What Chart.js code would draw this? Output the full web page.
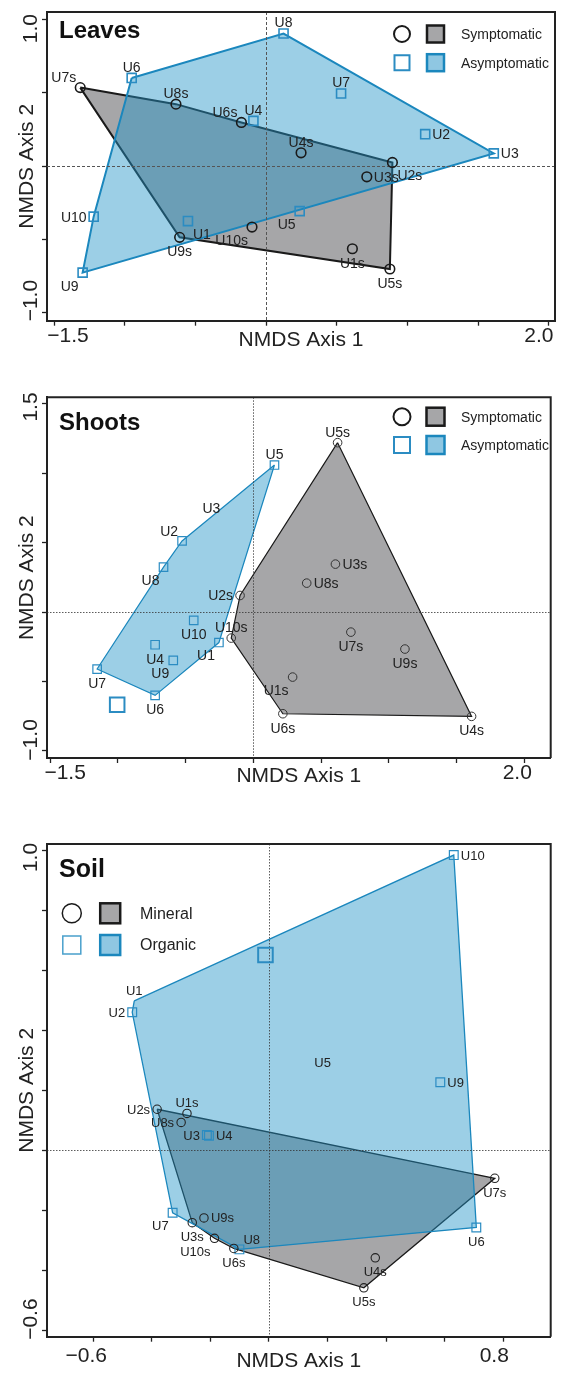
<!DOCTYPE html>
<html lang="en">
<head>
<meta charset="UTF-8">
<title>NMDS ordination</title>
<script src="https://cdn.jsdelivr.net/npm/chart.js"></script>
<style>
  * { margin: 0; padding: 0; box-sizing: border-box; }
  body { width: 563px; height: 1373px; background: #fff; position: relative; overflow: hidden; }
  canvas { position: absolute; left: 0; }
  #leaves { top: 0; }
  #shoots { top: 380px; }
  #soil { top: 820px; }
</style>
</head>
<body>
<canvas id="leaves" width="563" height="360"></canvas>
<canvas id="shoots" width="563" height="410"></canvas>
<canvas id="soil" width="563" height="553"></canvas>
<script>
// ---- Leaves ----
const leavesSymNames = ['U7s', 'U8s', 'U6s', 'U4s', 'U2s', 'U3s', 'U9s', 'U10s', 'U1s', 'U5s'];
const leavesSymX = [-1.315, -0.638, -0.175, 0.247, 0.893, 0.712, -0.612, -0.100, 0.610, 0.875];
const leavesSymY = [0.536, 0.423, 0.298, 0.091, 0.025, -0.073, -0.486, -0.416, -0.564, -0.702];
const leavesSymHull = ['U7s', 'U8s', 'U6s', 'U2s', 'U5s', 'U9s'];
const leavesAsymNames = ['U8', 'U6', 'U7', 'U4', 'U2', 'U3', 'U10', 'U1', 'U5', 'U9'];
const leavesAsymX = [0.123, -0.951, 0.530, -0.090, 1.125, 1.610, -1.220, -0.553, 0.237, -1.298];
const leavesAsymY = [0.905, 0.602, 0.496, 0.309, 0.218, 0.087, -0.345, -0.375, -0.307, -0.727];
const leavesAsymHull = ['U6', 'U8', 'U3', 'U9', 'U10'];
const leavesXTicks = [-1.5, -1, -0.5, 0, 0.5, 1, 1.5, 2];
const leavesXLabels = [-1.5, 2];
const leavesYTicks = [-1, -0.5, 0, 0.5, 1];
const leavesYLabels = [-1, 1];

// ---- Shoots ----
const shootsSymNames = ['U5s', 'U3s', 'U8s', 'U2s', 'U10s', 'U7s', 'U9s', 'U1s', 'U6s', 'U4s'];
const shootsSymX = [0.622, 0.606, 0.394, -0.098, -0.163, 0.720, 1.119, 0.290, 0.218, 1.611];
const shootsSymY = [1.221, 0.346, 0.209, 0.120, -0.187, -0.144, -0.266, -0.468, -0.732, -0.751];
const shootsSymHull = ['U5s', 'U4s', 'U6s', 'U10s', 'U2s'];
const shootsAsymNames = ['U5', 'U3', 'U2', 'U8', 'U10', 'U4', 'U9', 'U1', 'U7', 'U6'];
const shootsAsymX = [0.156, -0.31, -0.526, -0.663, -0.440, -0.725, -0.591, -0.254, -1.153, -0.725];
const shootsAsymY = [1.060, 0.67, 0.513, 0.324, -0.060, -0.235, -0.348, -0.219, -0.410, -0.600];
const shootsAsymHull = ['U5', 'U1', 'U6', 'U7', 'U8', 'U2'];
const shootsAsymCentroid = [-1.005, -0.667];
const shootsXTicks = [-1.5, -1, -0.5, 0, 0.5, 1, 1.5, 2];
const shootsXLabels = [-1.5, 2];
const shootsYTicks = [-1, -0.5, 0, 0.5, 1, 1.5];
const shootsYLabels = [-1, 1.5];

// ---- Soil ----
const soilMinNames = ['U2s', 'U1s', 'U8s', 'U7s', 'U9s', 'U3s', 'U10s', 'U6s', 'U4s', 'U5s'];
const soilMinX = [-0.382, -0.280, -0.300, 0.771, -0.222, -0.262, -0.186, -0.120, 0.363, 0.324];
const soilMinY = [0.136, 0.122, 0.092, -0.094, -0.226, -0.242, -0.294, -0.328, -0.359, -0.459];
const soilMinHull = ['U2s', 'U7s', 'U5s', 'U6s', 'U10s', 'U3s'];
const soilOrgNames = ['U10', 'U1', 'U2', 'U5', 'U9', 'U3', 'U4', 'U7', 'U8', 'U6'];
const soilOrgX = [0.631, -0.460, -0.467, 0.183, 0.585, -0.212, -0.205, -0.329, -0.101, 0.708];
const soilOrgY = [0.983, 0.497, 0.459, 0.289, 0.226, 0.050, 0.048, -0.209, -0.331, -0.258];
const soilOrgHull = ['U1', 'U10', 'U6', 'U8', 'U7', 'U2'];
const soilOrgCentroid = [-0.012, 0.650];
const soilXTicks = [-0.6, -0.4, -0.2, 0, 0.2, 0.4, 0.6, 0.8];
const soilXLabels = [-0.6, 0.8];
const soilYTicks = [-0.6, -0.4, -0.2, 0, 0.2, 0.4, 0.6, 0.8, 1.0];
const soilYLabels = [-0.6, 1.0];

// where each point label sits relative to its marker
const leavesSymSides = ['tl', 't', 'tl', 't', 'br', 'r', 'b', 'bl', 'b', 'b'];
const leavesAsymSides = ['t', 't', 't', 't', 'r', 'r', 'l', 'br', 'bl', 'bl'];
const shootsSymSides = ['t', 'r', 'r', 'l', 't', 'b', 'b', 'bl', 'b', 'b'];
const shootsAsymSides = ['t', 't', 'tl', 'bl', 'b', 'b', 'bl', 'bl', 'b', 'b'];
const soilMinSides = ['l', 't', 'l', 'b', 'r', 'b', 'bl', 'b', 'b', 'b'];
const soilOrgSides = ['r', 't', 'l', 'c', 'r', 'l', 'r', 'bl', 'tr', 'b'];
// points drawn in the figure with a label only
const shootsAsymNoMarker = ['U3'];
const soilOrgNoMarker = ['U1', 'U5'];

const FONT = '"Liberation Sans", Arial, sans-serif';
const GRAY_FILL = '#a6a6a8';
const BLUE_FILL = 'rgba(35, 149, 200, 0.45)';
const BLUE_LINE = '#1b87bd';
const MARK_BLUE = '#2b8cc2';
const DARK = '#1a1a1a';

const LABEL_SIDES = {
    t: { dx: 0, dy: -10, align: 'center' },
    b: { dx: 0, dy: 15, align: 'center' },
    l: { dx: -7, dy: 1, align: 'right' },
    r: { dx: 7, dy: 1, align: 'left' },
    tl: { dx: -4, dy: -9, align: 'right' },
    tr: { dx: 4, dy: -9, align: 'left' },
    bl: { dx: -4, dy: 14, align: 'right' },
    br: { dx: 5, dy: 14, align: 'left' },
    c: { dx: 0, dy: 0, align: 'center' }
};

function fmt(v) {
    return v.toFixed(1).replace('-', '\u2212');
}

function toPoints(xs, ys) {
    return xs.map((x, i) => ({ x: x, y: ys[i] }));
}

function hullPoints(names, xs, ys, hull) {
    const pts = hull.map(n => {
        const i = names.indexOf(n);
        return { x: xs[i], y: ys[i] };
    });
    pts.push(pts[0]);
    return pts;
}

const panelDecor = {
    id: 'panelDecor',
    afterDatasetDraw(chart, args, opts) {
        if (chart.data.datasets[args.index].role !== 'asymHull') return;
        const { ctx, chartArea: a, scales: { x, y } } = chart;
        const px = Math.round(x.getPixelForValue(0)) + 0.5;
        const py = Math.round(y.getPixelForValue(0)) + 0.5;
        ctx.save();
        ctx.strokeStyle = opts.zeroColor;
        ctx.lineWidth = opts.zeroWidth;
        ctx.setLineDash(opts.zeroDash);
        ctx.beginPath();
        ctx.moveTo(px, a.top);
        ctx.lineTo(px, a.bottom);
        ctx.moveTo(a.left, py);
        ctx.lineTo(a.right, py);
        ctx.stroke();
        ctx.restore();
    },
    afterDatasetsDraw(chart, args, opts) {
        const ctx = chart.ctx;
        chart.data.datasets.forEach((ds, di) => {
            if (!ds.names) return;
            const meta = chart.getDatasetMeta(di);
            ctx.save();
            ctx.font = opts.labelSize + 'px ' + FONT;
            ctx.fillStyle = '#222';
            ctx.textBaseline = 'middle';
            meta.data.forEach((pt, i) => {
                const s = LABEL_SIDES[ds.sides[i]];
                ctx.textAlign = s.align;
                ctx.fillText(ds.names[i], pt.x + s.dx, pt.y + s.dy);
            });
            ctx.restore();
        });
    },
    afterDraw(chart, args, opts) {
        const { ctx, chartArea: a, scales } = chart;
        ctx.save();
        // box top and right
        ctx.strokeStyle = '#222';
        ctx.lineWidth = 2;
        ctx.beginPath();
        ctx.moveTo(a.left, a.top);
        ctx.lineTo(a.right, a.top);
        ctx.lineTo(a.right, a.bottom);
        ctx.stroke();
        // end tick labels, placed from the scales
        ctx.fillStyle = '#222';
        ctx.font = '21px ' + FONT;
        ctx.textAlign = 'center';
        ctx.textBaseline = 'middle';
        opts.xLabels.forEach((v, k) => {
            ctx.fillText(fmt(v), scales.x.getPixelForValue(v) + opts.xLabelOffset[k], a.bottom + opts.xLabelDy);
        });
        opts.yLabels.forEach((v, k) => {
            ctx.save();
            ctx.translate(31, scales.y.getPixelForValue(v) + opts.yLabelOffset[k]);
            ctx.rotate(-Math.PI / 2);
            ctx.fillText(fmt(v), 0, 0);
            ctx.restore();
        });
        // panel title
        ctx.fillStyle = '#111';
        ctx.font = 'bold ' + opts.titleSize + 'px ' + FONT;
        ctx.textAlign = 'left';
        ctx.fillText(opts.title, a.left + 12, a.top + opts.titleY);
        // legend
        const lg = opts.legend;
        lg.rows.forEach((row, k) => {
            const cy = a.top + lg.y + k * lg.gap;
            const cx = a.left + lg.x;
            const h = lg.box / 2;
            ctx.lineWidth = row.openWidth;
            ctx.strokeStyle = row.openColor;
            ctx.beginPath();
            if (row.open === 'circle') ctx.arc(cx, cy, h - 0.5, 0, Math.PI * 2);
            else ctx.rect(cx - h + 1, cy - h + 1, lg.box - 2, lg.box - 2);
            ctx.stroke();
            const sx = a.left + lg.sq;
            ctx.fillStyle = row.fill;
            ctx.fillRect(sx - h, cy - h, lg.box, lg.box);
            ctx.lineWidth = 2.5;
            ctx.strokeStyle = row.stroke;
            ctx.strokeRect(sx - h, cy - h, lg.box, lg.box);
            ctx.fillStyle = '#222';
            ctx.font = lg.fontSize + 'px ' + FONT;
            ctx.fillText(row.text, a.left + lg.text, cy + 1);
        });
        ctx.restore();
    }
};

function axisOpts(p, isX) {
    const tickVals = isX ? p.xTicks : p.yTicks;
    return {
        type: 'linear',
        position: isX ? 'bottom' : 'left',
        min: isX ? p.xMin : p.yMin,
        max: isX ? p.xMax : p.yMax,
        afterBuildTicks: s => { s.ticks = tickVals.map(v => ({ value: v })); },
        afterFit: s => {
            if (isX) s.height = p.xAxisHeight; else s.width = 47;
            s.paddingLeft = 0; s.paddingRight = 0; s.paddingTop = 0; s.paddingBottom = 0;
        },
        grid: { display: true, drawOnChartArea: false, drawTicks: true, tickLength: 5, tickWidth: 1.3, tickColor: '#222', color: '#222' },
        border: { display: true, color: '#222', width: 2 },
        ticks: { display: false, autoSkip: false },
        title: {
            display: true,
            text: isX ? 'NMDS Axis 1' : 'NMDS Axis 2',
            color: '#222',
            font: { family: FONT, size: 21 },
            padding: isX ? { top: 0, bottom: p.xTitlePad } : { top: 14.4, bottom: 0 }
        }
    };
}

function buildPanel(p) {
    const noMarker = p.asym.noMarker || [];
    const datasets = [
        {
            role: 'symHull', order: 4,
            data: hullPoints(p.sym.names, p.sym.x, p.sym.y, p.sym.hull),
            showLine: true, fill: 'shape', tension: 0,
            backgroundColor: GRAY_FILL, borderColor: DARK, borderWidth: p.hullWidth,
            pointRadius: 0
        },
        {
            role: 'asymHull', order: 3,
            data: hullPoints(p.asym.names, p.asym.x, p.asym.y, p.asym.hull),
            showLine: true, fill: 'shape', tension: 0,
            backgroundColor: BLUE_FILL, borderColor: BLUE_LINE, borderWidth: p.hullWidth,
            pointRadius: 0
        },
        {
            role: 'asymPts', order: 2,
            names: p.asym.names, sides: p.asym.sides,
            data: toPoints(p.asym.x, p.asym.y),
            showLine: false, pointStyle: 'rect',
            pointRadius: c => noMarker.includes(p.asym.names[c.dataIndex]) ? 0 : p.squareR,
            pointBorderWidth: p.squareW,
            pointBorderColor: MARK_BLUE,
            pointBackgroundColor: 'rgba(0,0,0,0)'
        },
        {
            role: 'symPts', order: 1,
            names: p.sym.names, sides: p.sym.sides,
            data: toPoints(p.sym.x, p.sym.y),
            showLine: false, pointStyle: 'circle',
            pointRadius: p.circleR,
            pointBorderWidth: p.circleW,
            pointBorderColor: p.circleColor,
            pointBackgroundColor: 'rgba(0,0,0,0)'
        }
    ];
    if (p.centroid) {
        datasets.push({
            role: 'centroid', order: 2,
            data: [{ x: p.centroid[0], y: p.centroid[1] }],
            showLine: false, pointStyle: 'rect',
            pointRadius: 10.3, pointBorderWidth: 2,
            pointBorderColor: MARK_BLUE, pointBackgroundColor: 'rgba(0,0,0,0)'
        });
    }
    new Chart(document.getElementById(p.id), {
        type: 'scatter',
        data: { datasets: datasets },
        options: {
            responsive: false,
            animation: false,
            events: [],
            layout: { padding: { top: p.top, right: 1, left: 0, bottom: 0 } },
            scales: { x: axisOpts(p, true), y: axisOpts(p, false) },
            plugins: {
                legend: { display: false },
                tooltip: { enabled: false },
                panelDecor: {
                    title: p.title, titleSize: p.titleSize, titleY: p.titleY,
                    labelSize: p.labelSize,
                    zeroColor: p.zeroColor, zeroWidth: p.zeroWidth, zeroDash: p.zeroDash,
                    xLabels: p.xLabels, xLabelOffset: p.xLabelOffset, xLabelDy: p.xLabelDy,
                    yLabels: p.yLabels, yLabelOffset: p.yLabelOffset,
                    legend: p.legend
                }
            }
        },
        plugins: [panelDecor]
    });
}

const symRows = [
    { open: 'circle', openColor: DARK, openWidth: 2, fill: GRAY_FILL, stroke: DARK, text: 'Symptomatic' },
    { open: 'square', openColor: MARK_BLUE, openWidth: 2, fill: '#8fc7e2', stroke: BLUE_LINE, text: 'Asymptomatic' }
];

buildPanel({
    id: 'leaves', title: 'Leaves', titleSize: 24, titleY: 19, top: 12,
    sym: { names: leavesSymNames, x: leavesSymX, y: leavesSymY, hull: leavesSymHull, sides: leavesSymSides },
    asym: { names: leavesAsymNames, x: leavesAsymX, y: leavesAsymY, hull: leavesAsymHull, sides: leavesAsymSides },
    xTicks: leavesXTicks, xLabels: leavesXLabels, xLabelOffset: [14, -10], xLabelDy: 15.3,
    yTicks: leavesYTicks, yLabels: leavesYLabels, yLabelOffset: [-12, 9],
    xMin: -1.55, xMax: 2.043, yMin: -1.055, yMax: 1.052,
    xAxisHeight: 39.3, xTitlePad: 7.4,
    hullWidth: 2, circleR: 4.8, circleW: 1.6, circleColor: DARK, squareR: 6.4, squareW: 1.6,
    labelSize: 14, zeroColor: '#555', zeroWidth: 1, zeroDash: [3, 2],
    legend: { x: 355, sq: 388.5, text: 414, y: 22, gap: 28.7, box: 17, fontSize: 14, rows: symRows }
});

buildPanel({
    id: 'shoots', title: 'Shoots', titleSize: 24, titleY: 25.7, top: 17.3,
    sym: { names: shootsSymNames, x: shootsSymX, y: shootsSymY, hull: shootsSymHull, sides: shootsSymSides },
    asym: { names: shootsAsymNames, x: shootsAsymX, y: shootsAsymY, hull: shootsAsymHull, sides: shootsAsymSides, noMarker: shootsAsymNoMarker },
    centroid: shootsAsymCentroid,
    xTicks: shootsXTicks, xLabels: shootsXLabels, xLabelOffset: [15, -7], xLabelDy: 15,
    yTicks: shootsYTicks, yLabels: shootsYLabels, yLabelOffset: [-11, 3],
    xMin: -1.523, xMax: 2.195, yMin: -1.051, yMax: 1.548,
    xAxisHeight: 32, xTitlePad: 1.4,
    hullWidth: 1.2, circleR: 4.3, circleW: 1, circleColor: '#333', squareR: 6, squareW: 1.2,
    labelSize: 14, zeroColor: '#333', zeroWidth: 0.8, zeroDash: [1.5, 1.5],
    legend: { x: 355, sq: 388.5, text: 414, y: 19.4, gap: 28.3, box: 18, fontSize: 14, rows: symRows }
});

buildPanel({
    id: 'soil', title: 'Soil', titleSize: 25, titleY: 26, top: 24,
    sym: { names: soilMinNames, x: soilMinX, y: soilMinY, hull: soilMinHull, sides: soilMinSides },
    asym: { names: soilOrgNames, x: soilOrgX, y: soilOrgY, hull: soilOrgHull, sides: soilOrgSides, noMarker: soilOrgNoMarker },
    centroid: soilOrgCentroid,
    xTicks: soilXTicks, xLabels: soilXLabels, xLabelOffset: [-7, -9], xLabelDy: 20,
    yTicks: soilYTicks, yLabels: soilYLabels, yLabelOffset: [-11, 7.5],
    xMin: -0.758, xMax: 0.962, yMin: -0.622, yMax: 1.02,
    xAxisHeight: 36.3, xTitlePad: -1.3,
    hullWidth: 1.3, circleR: 4.2, circleW: 1.1, circleColor: '#222', squareR: 6.2, squareW: 1.2,
    labelSize: 13, zeroColor: '#333', zeroWidth: 0.8, zeroDash: [1.5, 1.5],
    legend: {
        x: 24.8, sq: 63.2, text: 93, y: 69.3, gap: 31.7, box: 20, fontSize: 16,
        rows: [
            { open: 'circle', openColor: DARK, openWidth: 1.5, fill: GRAY_FILL, stroke: DARK, text: 'Mineral' },
            { open: 'square', openColor: '#4aa0cc', openWidth: 1.5, fill: '#8fc7e2', stroke: BLUE_LINE, text: 'Organic' }
        ]
    }
});
</script>
</body>
</html>
